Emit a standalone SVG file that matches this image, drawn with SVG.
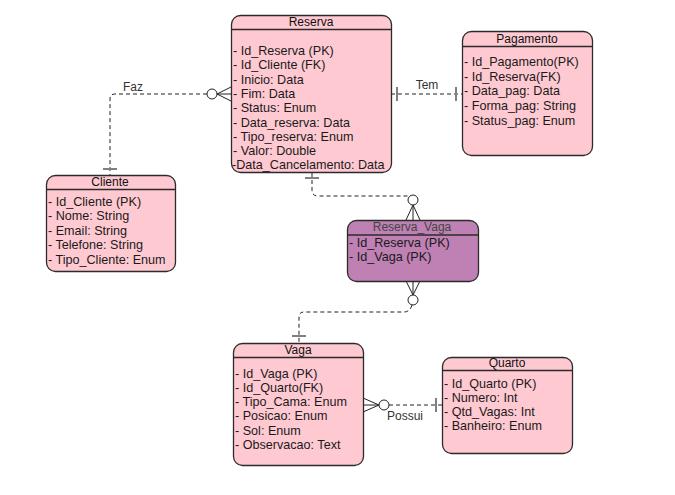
<svg xmlns="http://www.w3.org/2000/svg" width="675" height="495" viewBox="0 0 675 495">
<style>
.box{fill:#FFC9D2;stroke:#2b2b2b;stroke-width:1.3}
.box2{fill:#BF80B3;stroke:#2b2b2b;stroke-width:1.3}
.sep{stroke:#2b2b2b;stroke-width:1.3}
.title{font-family:"Liberation Sans",Arial,sans-serif;font-size:12px;fill:#111;text-anchor:middle}
.attr{font-family:"Liberation Sans",Arial,sans-serif;font-size:12.6px;fill:#1a1a1a}
.lbl{font-family:"Liberation Sans",Arial,sans-serif;font-size:12px;fill:#333;text-anchor:middle}
.dash{fill:none;stroke:#222;stroke-width:1;stroke-dasharray:4 3}
.crow{fill:none;stroke:#222;stroke-width:1}
.circ{fill:#fff;stroke:#222;stroke-width:1}
.bar{stroke:#808080;stroke-width:2}
</style>
<rect width="675" height="495" fill="#fff"/>
<g id="connectors">
  <!-- Faz -->
  <path class="dash" d="M207,94 H115 Q110,94 110,99 V175"/>
  <line class="bar" x1="103" y1="169" x2="117" y2="169"/>
  <path class="crow" d="M217,94 L231,87 M217,94 L231,94 M217,94 L231,101"/>
  <circle class="circ" cx="212" cy="94" r="5"/>
  <text class="lbl" x="133" y="91">Faz</text>
  <!-- Tem -->
  <path class="dash" d="M391,94 H462"/>
  <line class="bar" x1="397" y1="87" x2="397" y2="101"/>
  <line class="bar" x1="456" y1="87" x2="456" y2="101"/>
  <text class="lbl" x="427" y="89">Tem</text>
  <!-- Reserva - Reserva_Vaga -->
  <path class="dash" d="M312,173 V190 Q312,196 318,196 H408"/>
  <line class="bar" x1="305" y1="178" x2="319" y2="178"/>
  <path class="crow" d="M413,205 L406,220 M413,205 L413,220 M413,205 L420,220"/>
  <circle class="circ" cx="413" cy="200" r="5"/>
  <!-- Reserva_Vaga - Vaga -->
  <path class="crow" d="M413,295 L406,281 M413,295 L413,281 M413,295 L420,281"/>
  <circle class="circ" cx="413" cy="300" r="5"/>
  <path class="dash" d="M412,305 Q410,312 404,312 H304 Q299,312 299,317 V343"/>
  <line class="bar" x1="292" y1="336" x2="306" y2="336"/>
  <!-- Possui -->
  <path class="dash" d="M389,405 H442"/>
  <path class="crow" d="M379,405 L363,398 M379,405 L363,405 M379,405 L363,412"/>
  <circle class="circ" cx="384" cy="405" r="5"/>
  <line class="bar" x1="436" y1="398" x2="436" y2="412"/>
  <text class="lbl" x="405" y="420">Possui</text>
</g>
<g id="Reserva">
  <rect class="box" x="231.5" y="15.5" width="160" height="157" rx="9"/>
  <line class="sep" x1="231.5" y1="29.5" x2="391.5" y2="29.5"/>
  <text class="title" x="311" y="26">Reserva</text>
  <text class="attr" x="233" y="55">- Id_Reserva (PK)</text>
  <text class="attr" x="233" y="69.3">- Id_Cliente (FK)</text>
  <text class="attr" x="233" y="83.6">- Inicio: Data</text>
  <text class="attr" x="233" y="97.9">- Fim: Data</text>
  <text class="attr" x="233" y="112.2">- Status: Enum</text>
  <text class="attr" x="233" y="126.5">- Data_reserva: Data</text>
  <text class="attr" x="233" y="140.8">- Tipo_reserva: Enum</text>
  <text class="attr" x="233" y="155.1">- Valor: Double</text>
  <text class="attr" x="232" y="169.4">-Data_Cancelamento: Data</text>
</g>
<g id="Pagamento">
  <rect class="box" x="462.5" y="31.5" width="130" height="124" rx="9"/>
  <line class="sep" x1="462.5" y1="46.5" x2="592.5" y2="46.5"/>
  <text class="title" x="527" y="42.5">Pagamento</text>
  <text class="attr" x="464" y="66">- Id_Pagamento(PK)</text>
  <text class="attr" x="464" y="80.7">- Id_Reserva(FK)</text>
  <text class="attr" x="464" y="95.4">- Data_pag: Data</text>
  <text class="attr" x="464" y="110.1">- Forma_pag: String</text>
  <text class="attr" x="464" y="124.8">- Status_pag: Enum</text>
</g>
<g id="Cliente">
  <rect class="box" x="46.5" y="175.5" width="129" height="96" rx="9"/>
  <line class="sep" x1="46.5" y1="189.5" x2="175.5" y2="189.5"/>
  <text class="title" x="110" y="186">Cliente</text>
  <text class="attr" x="48" y="206">- Id_Cliente (PK)</text>
  <text class="attr" x="48" y="220.4">- Nome: String</text>
  <text class="attr" x="48" y="234.8">- Email: String</text>
  <text class="attr" x="48" y="249.2">- Telefone: String</text>
  <text class="attr" x="48" y="263.6">- Tipo_Cliente: Enum</text>
</g>
<g id="Reserva_Vaga">
  <rect class="box2" x="347.5" y="220.5" width="131" height="61" rx="9"/>
  <line class="sep" x1="347.5" y1="235" x2="478.5" y2="235"/>
  <text class="title" x="412" y="231" style="fill:#444">Reserva_Vaga</text>
  <text class="attr" x="349" y="246.5">- Id_Reserva (PK)</text>
  <text class="attr" x="349" y="260.8">- Id_Vaga (PK)</text>
</g>
<g id="Vaga">
  <rect class="box" x="233.5" y="343.5" width="130" height="122" rx="9"/>
  <line class="sep" x1="233.5" y1="357.5" x2="363.5" y2="357.5"/>
  <text class="title" x="298" y="354">Vaga</text>
  <text class="attr" x="235" y="377.5">- Id_Vaga (PK)</text>
  <text class="attr" x="235" y="391.8">- Id_Quarto(FK)</text>
  <text class="attr" x="235" y="406.1">- Tipo_Cama: Enum</text>
  <text class="attr" x="235" y="420.4">- Posicao: Enum</text>
  <text class="attr" x="235" y="434.7">- Sol: Enum</text>
  <text class="attr" x="235" y="449">- Observacao: Text</text>
</g>
<g id="Quarto">
  <rect class="box" x="442.5" y="357.5" width="130" height="96" rx="9"/>
  <line class="sep" x1="442.5" y1="370.5" x2="572.5" y2="370.5"/>
  <text class="title" x="507" y="366.5">Quarto</text>
  <text class="attr" x="444" y="387.5">- Id_Quarto (PK)</text>
  <text class="attr" x="444" y="401.8">- Numero: Int</text>
  <text class="attr" x="444" y="416.1">- Qtd_Vagas: Int</text>
  <text class="attr" x="444" y="430.4">- Banheiro: Enum</text>
</g>
</svg>
